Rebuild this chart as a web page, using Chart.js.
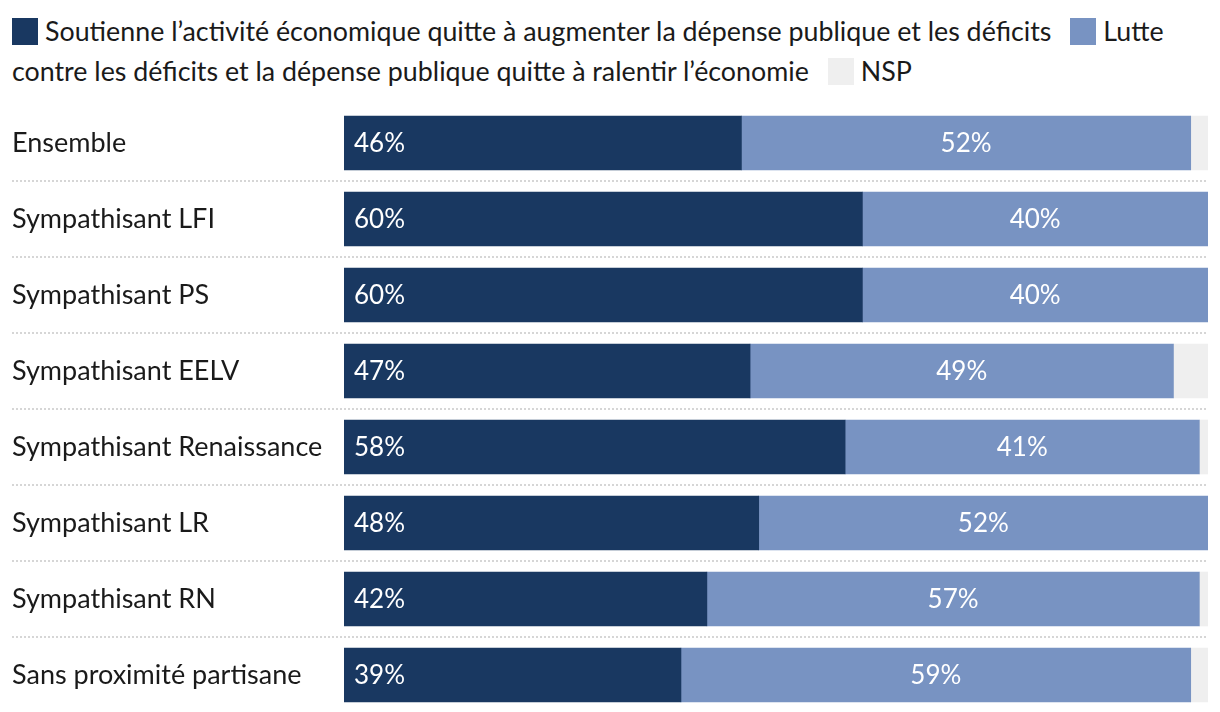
<!DOCTYPE html>
<html lang="fr">
<head>
<meta charset="UTF-8">
<title>Dépense publique et déficits</title>
<script src="https://cdn.jsdelivr.net/npm/chart.js"></script>
<style>
    body, html {
        margin: 0;
        padding: 0;
        background: #fff;
        width: 1220px;
        height: 712px;
        overflow: hidden;
        font-family: Lato, sans-serif;
        color: #1a1a1a;
    }
    #legend {
        position: absolute;
        left: 12px;
        top: 11px;
        width: 1205px;
        font-size: 26.8px;
        line-height: 40px;
    }
    .sw {
        display: inline-block;
        width: 26px;
        height: 27px;
        vertical-align: -4px;
        margin-right: 7px;
    }
    .item { margin-right: 12px; }
    #wrap {
        position: absolute;
        left: 0;
        top: 105px;
        width: 1220px;
        height: 608px;
    }
</style>
</head>
<body>
<div id="legend"></div>
<div id="wrap"><canvas id="chart"></canvas></div>
<script>
    var categories = ['Ensemble', 'Sympathisant LFI', 'Sympathisant PS', 'Sympathisant EELV',
        'Sympathisant Renaissance', 'Sympathisant LR', 'Sympathisant RN', 'Sans proximité partisane'];
    var soutienne = [46, 60, 60, 47, 58, 48, 42, 39];
    var lutte = [52, 40, 40, 49, 41, 52, 57, 59];
    var nsp = [2, 0, 0, 4, 1, 0, 1, 2];
    var seriesNames = [
        'Soutienne l’activité économique quitte à augmenter la dépense publique et les déficits',
        'Lutte contre les déficits et la dépense publique quitte à ralentir l’économie',
        'NSP'
    ];
    var colors = ['#193861', '#7893c2', '#efefef'];

    // legend in html so the long labels can wrap like the original
    var legend = document.getElementById('legend');
    seriesNames.forEach(function(name, i) {
        var s = document.createElement('span');
        s.className = 'item';
        s.innerHTML = '<span class="sw" style="background:' + colors[i] + '"></span>' + name;
        legend.appendChild(s);
        legend.appendChild(document.createTextNode(' '));
    });

    var separators = {
        id: 'separators',
        beforeDatasetsDraw: function(chart) {
            var ctx = chart.ctx, y = chart.scales.y;
            ctx.save();
            ctx.strokeStyle = '#d6d6d6';
            ctx.lineWidth = 2;
            ctx.setLineDash([2, 2]);
            for (var i = 0; i < categories.length - 1; i++) {
                var py = Math.round((y.getPixelForValue(i) + y.getPixelForValue(i + 1)) / 2);
                ctx.beginPath();
                ctx.moveTo(12, py);
                ctx.lineTo(chart.chartArea.right, py);
                ctx.stroke();
            }
            ctx.restore();
        }
    };

    var barLabels = {
        id: 'barLabels',
        afterDatasetsDraw: function(chart) {
            var ctx = chart.ctx;
            ctx.save();
            ctx.font = '26px Lato';
            ctx.fillStyle = '#fff';
            ctx.textBaseline = 'middle';
            [0, 1].forEach(function(di) {
                var meta = chart.getDatasetMeta(di);
                meta.data.forEach(function(bar, i) {
                    var v = chart.data.datasets[di].data[i];
                    if (di === 0) {
                        ctx.textAlign = 'left';
                        ctx.fillText(v + '%', Math.min(bar.x, bar.base) + 10, bar.y + 1);
                    } else {
                        ctx.textAlign = 'center';
                        ctx.fillText(v + '%', (bar.x + bar.base) / 2, bar.y + 1);
                    }
                });
            });
            ctx.restore();
        }
    };

    var ctx = document.getElementById('chart').getContext('2d');
    var chart = new Chart(ctx, {
        type: 'bar',
        data: {
            labels: categories,
            datasets: [
                { label: seriesNames[0], data: soutienne, backgroundColor: colors[0] },
                { label: seriesNames[1], data: lutte, backgroundColor: colors[1] },
                { label: seriesNames[2], data: nsp, backgroundColor: colors[2] }
            ]
        },
        options: {
            indexAxis: 'y',
            responsive: true,
            maintainAspectRatio: false,
            animation: false,
            layout: { padding: { left: 12, right: 12, top: 0, bottom: 0 } },
            datasets: { bar: { barThickness: 54, borderWidth: 0 } },
            plugins: {
                legend: { display: false },
                tooltip: { enabled: false }
            },
            scales: {
                x: {
                    stacked: true,
                    min: 0,
                    max: 100,
                    display: false
                },
                y: {
                    stacked: true,
                    grid: { display: false },
                    border: { display: false },
                    ticks: {
                        crossAlign: 'far',
                        color: '#1a1a1a',
                        font: { family: 'Lato', size: 27 }
                    },
                    afterFit: function(scale) {
                        scale.width = 332;
                        scale.paddingTop = 0;
                        scale.paddingBottom = 0;
                    }
                }
            }
        },
        plugins: [separators, barLabels]
    });
</script>
</body>
</html>
